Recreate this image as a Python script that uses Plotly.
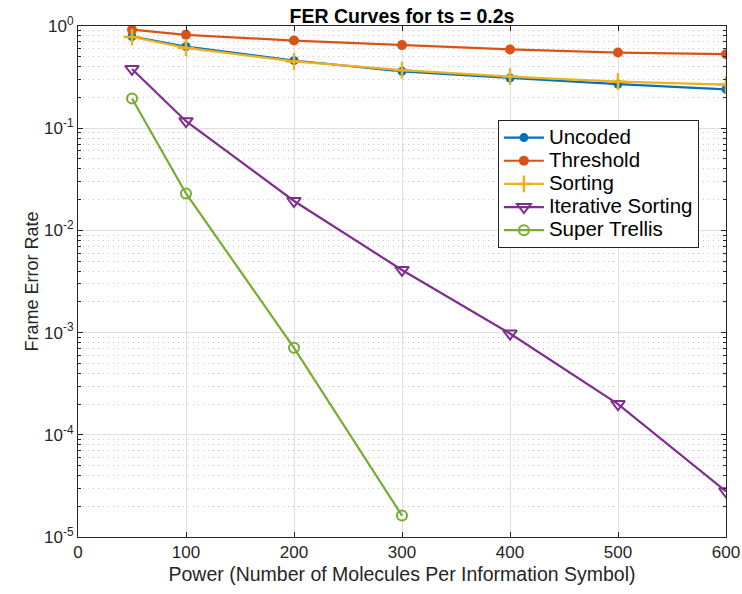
import plotly.graph_objects as go

power = [50, 100, 200, 300, 400, 500, 600]
uncoded = [0.79, 0.63, 0.46, 0.36, 0.31, 0.27, 0.24]
threshold = [0.92, 0.82, 0.72, 0.65, 0.59, 0.55, 0.53]
sorting = [0.78, 0.61, 0.45, 0.37, 0.32, 0.285, 0.267]
iterative = [0.38, 0.117, 0.0194, 0.0041, 0.00098, 0.0002, 2.8e-5]
trellis_power = [50, 100, 200, 300]
trellis = [0.195, 0.023, 7.1e-4, 1.62e-5]

ytick_vals = [1, 0.1, 0.01, 1e-3, 1e-4, 1e-5]
ytick_text = ["10<sup>0</sup>", "10<sup>-1</sup>", "10<sup>-2</sup>", "10<sup>-3</sup>",
              "10<sup>-4</sup>", "10<sup>-5</sup>"]
xtick_vals = [0, 100, 200, 300, 400, 500, 600]

series = [
    ("Uncoded", power, uncoded, "#0072BD", dict(symbol="circle", size=9)),
    ("Threshold", power, threshold, "#D95319", dict(symbol="circle", size=10)),
    ("Sorting", power, sorting, "#EDB120", dict(symbol="cross-thin-open", size=12, line=dict(width=2.5, color="#EDB120"))),
    ("Iterative Sorting", power, iterative, "#7E2F8E", dict(symbol="triangle-down-open", size=12, line=dict(width=2, color="#7E2F8E"))),
    ("Super Trellis", trellis_power, trellis, "#77AC30", dict(symbol="circle-open", size=10, line=dict(width=2, color="#77AC30"))),
]

FONT = "Liberation Sans, Arial, Helvetica"

fig = go.Figure()
for name, xs, ys, col, mk in series:
    fig.add_trace(go.Scatter(x=xs, y=ys,
                             name='<span style="font-size:20.5px">' + name + '</span>',
                             mode="lines+markers",
                             line=dict(color=col, width=2.2),
                             marker=dict(color=col, **mk)))

axis_common = dict(showline=True, linecolor="#262626", linewidth=1, mirror="ticks",
                   ticks="inside", ticklen=5, tickcolor="#262626", automargin=False,
                   tickfont=dict(family=FONT, size=17, color="#262626"),
                   showgrid=True, gridcolor="#DFDFDF", gridwidth=1, zeroline=False)

fig.update_xaxes(range=[0, 600], tickvals=xtick_vals, **axis_common,
                 title=dict(text="Power (Number of Molecules Per Information Symbol)",
                            font=dict(family=FONT, size=19.5, color="#262626"), standoff=5))
fig.update_yaxes(type="log", range=[-5, 0], tickvals=ytick_vals, ticktext=ytick_text, **axis_common,
                 minor=dict(dtick="D1", showgrid=True, griddash="1px,4px", gridcolor="#C4C4C4",
                            ticks="inside", ticklen=3, tickcolor="#262626"),
                 title=dict(text="Frame Error Rate",
                            font=dict(family=FONT, size=18, color="#262626"), standoff=0))

fig.update_layout(
    width=742, height=594,
    margin=dict(l=78, r=16, t=26, b=57),
    paper_bgcolor="white", plot_bgcolor="white",
    title=dict(text="<b>FER Curves for ts = 0.2s</b>", x=0.5, xref="paper", xanchor="center",
               y=1 - 16.5 / 594, yref="container", yanchor="middle",
               font=dict(family=FONT, size=19.5, color="black")),
    legend=dict(x=0.648, y=0.816, xanchor="left", yanchor="top",
                bgcolor="white", bordercolor="#262626", borderwidth=1,
                font=dict(family=FONT, size=15.5, color="black"),
                tracegroupgap=0, itemwidth=40),
    showlegend=True,
)

fig.write_html("out.html", config={"displayModeBar": False},
               post_script="document.body.style.margin='0';")
